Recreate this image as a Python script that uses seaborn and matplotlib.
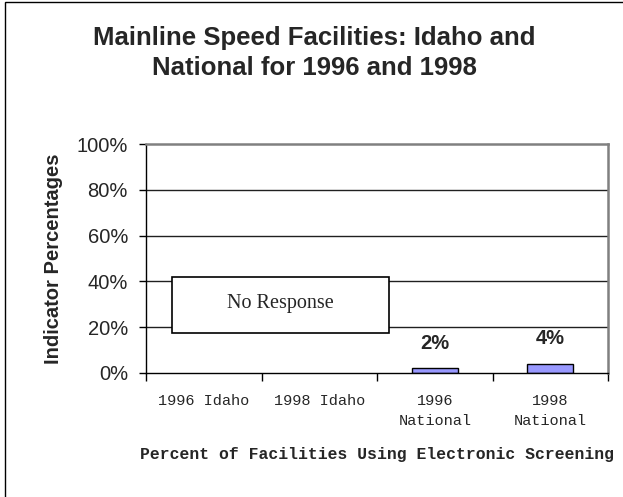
import matplotlib
matplotlib.use('Agg')
import matplotlib.pyplot as plt
from matplotlib.patches import Rectangle
import seaborn as sns
import numpy as np
import pandas as pd

# chart data
categories = ['1996 Idaho', '1998 Idaho', '1996\nNational', '1998\nNational']
values = [np.nan, np.nan, 2, 4]      # Idaho: no response
bar_labels = ['', '', '2%', '4%']
y_ticks = [0, 20, 40, 60, 80, 100]

sns.set_style('white')
plt.rcParams['font.family'] = ['Liberation Sans', 'DejaVu Sans']

df = pd.DataFrame({'cat': categories, 'val': values})

fig = plt.figure(figsize=(6.23, 4.97), dpi=100)
ax = fig.add_axes([146/623, 1-373/497, (608-146)/623, (373-144)/497])

sns.barplot(data=df, x='cat', y='val', order=categories, color='#9999FF',
            width=0.4, edgecolor='black', linewidth=1, saturation=1, ax=ax)

ax.set_xlim(-0.5, 3.5)
ax.set_ylim(0, 100)

# gridlines
for t in y_ticks[1:-1]:
    ax.axhline(t, color='#202020', lw=1, zorder=0.5)

# spines
for s in ['left', 'bottom']:
    ax.spines[s].set_color('black')
    ax.spines[s].set_linewidth(1)
for s in ['top', 'right']:
    ax.spines[s].set_color('#808080')
    ax.spines[s].set_linewidth(1.8)

# y axis
ax.set_yticks(y_ticks)
ax.set_yticklabels([f'{t}%' for t in y_ticks], fontsize=14.5)
ax.tick_params(axis='y', direction='out', length=5, width=1, color='black', pad=8, left=True)
ax.set_ylabel('Indicator Percentages', fontsize=14.5, fontweight='bold', labelpad=10)

# x axis: labels at centers, ticks at category boundaries
ax.set_xticks(range(len(categories)))
ax.set_xticklabels(categories, fontsize=11, family='Liberation Mono', linespacing=1.55)
ax.set_xticks(np.arange(-0.5, len(categories)), minor=True)
ax.tick_params(axis='x', which='major', length=0, pad=15)
ax.tick_params(axis='x', which='minor', direction='out', length=6, width=1, color='black', bottom=True)
ax.set_xlabel('Percent of Facilities Using Electronic Screening', fontsize=11.8,
              fontweight='bold', family='Liberation Mono', labelpad=14)

# value labels
for i, (v, lab) in enumerate(zip(values, bar_labels)):
    if lab:
        ax.annotate(lab, (i, v), xytext=(0, 18), textcoords='offset points',
                    ha='center', va='center', fontsize=14.5, fontweight='bold')

# "No Response" box
ax.add_patch(Rectangle((-0.275, 17.5), 1.88, 24.5, facecolor='white',
                       edgecolor='black', lw=1.2, zorder=3))
ax.text(0.665, 30.5, 'No Response', ha='center', va='center', fontsize=14.5,
        family='Liberation Serif', zorder=4)

# title
fig.text(0.505, 1-53/497, 'Mainline Speed Facilities: Idaho and\nNational for 1996 and 1998',
         ha='center', va='center', fontsize=18.5, fontweight='bold', linespacing=1.3)

# chart border (left/top edges visible)
fig.patches.append(Rectangle((5/623, -0.1), 2, 1-2/497+0.1, fill=False, ec='black',
                             lw=1, transform=fig.transFigure, figure=fig))

fig.savefig('out.png', dpi=100)
